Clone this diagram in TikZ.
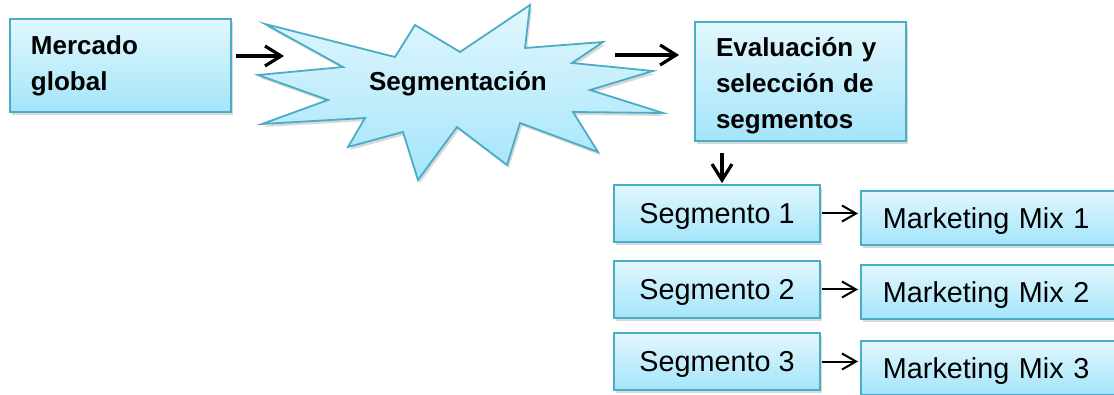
\documentclass[tikz,border=0pt]{standalone}
\usepackage{fontspec}
\setmainfont{Liberation Sans}
\usetikzlibrary{arrows.meta,shadows}
\definecolor{boxtop}{RGB}{226,247,253}
\definecolor{boxbot}{RGB}{163,229,250}
\definecolor{boxline}{RGB}{75,172,198}

\begin{document}
\begin{tikzpicture}[x=0.5pt, y=-0.5pt,
	every node/.style={font=\fontsize{14.4}{18}\selectfont},
	bold/.style={font=\fontsize{13}{18}\selectfont\bfseries},
	box/.style={draw=boxline, line width=0.9pt, top color=boxtop, bottom color=boxbot,
		drop shadow={shadow xshift=1pt, shadow yshift=-1.5pt, opacity=0.3}, inner ysep=0pt},
	arr/.style={-{Straight Barb[length=8pt, width=10pt]}, line width=1.6pt},
	small arr/.style={-{Straight Barb[length=7pt, width=8pt]}, line width=1pt}]
	\useasboundingbox (0,0) rectangle (1114,395);
	\clip (0,0) rectangle (1114,395);
	% left box and the burst
	\node[box, bold, minimum width=110.5pt, minimum height=46.5pt, text width=89.5pt, inner xsep=0pt, align=left] (mercado) at (120.5,65.5) {Mercado\\global};
	\path[box] (265,24) -- (395,57) -- (415,25) -- (460,52) -- (530,5) -- (525,48) -- (603,42) -- (572,63)
		-- (653,71) -- (590,90) -- (663,113) -- (573,112) -- (598,152) -- (520,123) -- (507,165) -- (457,127)
		-- (418,180) -- (403,132) -- (348,147) -- (365,118) -- (262,124) -- (328,100) -- (258,75) -- (343,67) -- cycle;
	\node[bold] (seg) at (458,84) {Segmentación};
	\coordinate (segin) at (284,56);
	\coordinate (segout) at (615,55);
	\node[box, bold, minimum width=105.5pt, minimum height=59.5pt, text width=84.5pt, text height=14pt, inner xsep=0pt, align=left] (eval) at (800.5,81.5) {Evaluación y\\selección de\\segmentos};
	\draw[arr] ([shift={(4,-9.5)}]mercado.east) -- (segin);
	\draw[arr] (segout) -- ([shift={(-15,-26.5)}]eval.west);
	% segments and their mixes
	\foreach \i/\y/\m in {1/213.5/218, 2/289.5/292, 3/361.5/368} {
		\node[box, minimum width=103pt, minimum height=28.5pt, text height=13pt] (sg\i) at (717,\y) {Segmento \i};
		\node[box, anchor=west, text width=115.5pt, inner xsep=11pt, minimum height=27pt, text height=13pt, align=left] (mm\i) at (860,\m) {Marketing Mix \i};
		\draw[small arr] ([shift={(1,0)}]sg\i.east) -- ([shift={(-2,0)}]sg\i.east -| mm\i.west);
	}
	\draw[arr] ([shift={(-78.5,11)}]eval.south) -- ([shift={(5,-1)}]sg1.north);
\end{tikzpicture}
\end{document}
